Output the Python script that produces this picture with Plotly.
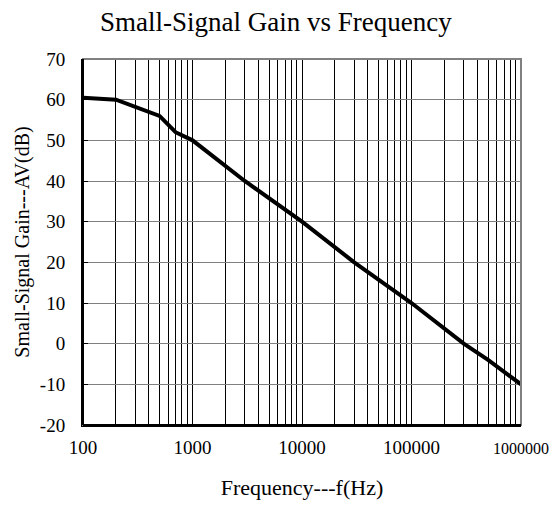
import plotly.graph_objects as go

# data
freq_hz = [100, 200, 500, 700, 1000, 3000, 10000, 30000, 100000, 300000, 500000, 1000000]
gain_db = [60.5, 60, 56, 52, 50, 40, 30, 20, 10, 0, -4, -10]

x_ticks = [100, 1000, 10000, 100000, 1000000]
# last label a touch smaller so it is not cut at the window edge
x_tick_labels = ["100", "1000", "10000", "100000", '<span style="font-size:16px">1000000</span>']
y_ticks = [-20, -10, 0, 10, 20, 30, 40, 50, 60, 70]
y_tick_labels = ["-20", "-10", "0", "10", "20", "30", "40", "50", "60", "70"]

serif = "Liberation Serif"

fig = go.Figure()
fig.add_trace(go.Scatter(
    x=freq_hz, y=gain_db, mode="lines",
    line=dict(color="black", width=4),
    showlegend=False,
))

# page body has an 8px margin, so the figure is a bit smaller than the window
fig.update_layout(
    width=550, height=492,
    margin=dict(l=75, r=37, t=51, b=75),
    paper_bgcolor="white", plot_bgcolor="white",
    font=dict(family=serif, size=19, color="black"),
    title=dict(text="Small-Signal Gain vs Frequency", x=0.487, xanchor="center",
               y=1 - 14 / 492, yanchor="middle", font=dict(family=serif, size=27)),
)

fig.update_xaxes(
    type="log", range=[2, 6], automargin=False,
    tickvals=x_ticks, ticktext=x_tick_labels,
    tickfont=dict(family=serif, size=19),
    showgrid=True, gridcolor="black", gridwidth=1,
    minor=dict(dtick="D1", showgrid=True, gridcolor="black", gridwidth=1, ticks=""),
    ticks="inside", ticklen=4, tickcolor="black",
    showline=True, linecolor="black", linewidth=2,
    zeroline=False, ticklabelstandoff=4,
    title=dict(text="Frequency---f(Hz)", standoff=25, font=dict(family=serif, size=22)),
)
fig.update_yaxes(
    range=[-20, 70], automargin=False,
    tickvals=y_ticks, ticktext=y_tick_labels,
    tickfont=dict(family=serif, size=19),
    showgrid=True, gridcolor="#808080", gridwidth=1,
    ticks="inside", ticklen=5, tickcolor="black",
    showline=True, linecolor="black", linewidth=2,
    zeroline=False, ticklabelstandoff=12,
    title=dict(text="Small-Signal Gain---AV(dB)", standoff=5, font=dict(family=serif, size=20)),
)

# grey frame on top / right, black on left / bottom
fig.add_shape(type="rect", xref="paper", yref="paper", x0=0, y0=0, x1=1, y1=1,
              line=dict(color="#808080", width=2), layer="above")
fig.add_shape(type="line", xref="paper", yref="paper", x0=0, y0=0, x1=0, y1=1,
              line=dict(color="black", width=2), layer="above")
fig.add_shape(type="line", xref="paper", yref="paper", x0=0, y0=0, x1=1, y1=0,
              line=dict(color="black", width=2), layer="above")

fig.write_html("out.html")
